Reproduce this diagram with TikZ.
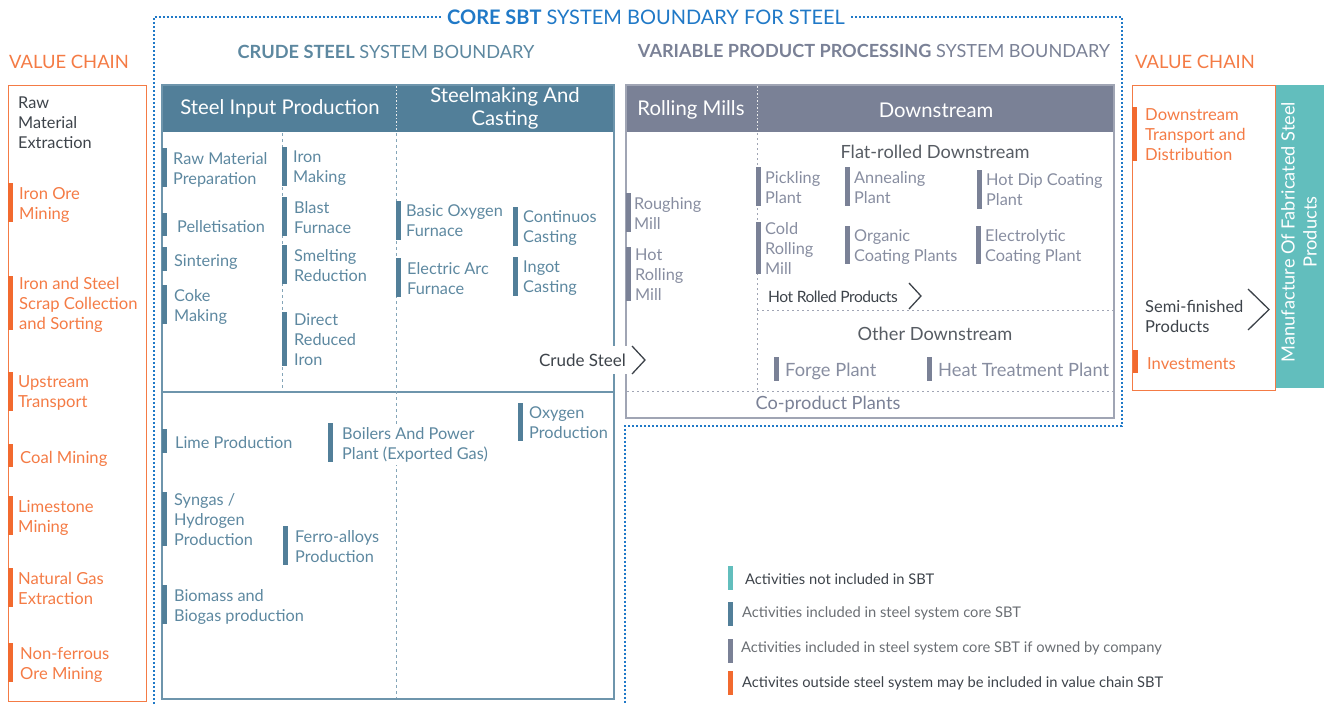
\documentclass[tikz,border=0pt]{standalone}
\usepackage{fontspec}
\setmainfont{Lato}
\usetikzlibrary{calc}

\definecolor{coreblue}{HTML}{527F99}
\definecolor{coretext}{HTML}{5D88A0}
\definecolor{coreline}{HTML}{6E95AC}
\definecolor{rollgray}{HTML}{7A8196}
\definecolor{rolltext}{HTML}{878DA0}
\definecolor{rollline}{HTML}{A0A5B4}
\definecolor{vcorange}{HTML}{F26A2F}
\definecolor{vctext}{HTML}{F47B45}
\definecolor{tealfill}{HTML}{62BEBD}
\definecolor{darktext}{HTML}{3D434A}
\definecolor{subtext}{HTML}{575C63}
\definecolor{sbtblue}{HTML}{2079C7}
\definecolor{legendgray}{HTML}{6A6E73}

\newcommand{\fs}[2]{\fontsize{#1}{#2}\selectfont}

% activity: coloured bar plus its label, centred on the bar
% [#1] extra label options, #2 name, #3 kind (core/roll/vc),
% #4 bar x, #5 bar top, #6 bar bottom, #7 label x, #8 label
\newcommand{\act}[8][]{%
  \fill[#3bar] (#4,#5) rectangle (#4+5,#6);
  \node[#3item,#1] (#2) at (#7,{(#5+#6)/2}) {#8};}

\tikzset{
  itemtxt/.style={anchor=west, inner sep=0pt, align=left, yshift=-3.5pt,
    font=\fs{16.3}{20}, execute at begin node=\strut, execute at end node=\strut},
  coreitem/.style={itemtxt, text=coretext},
  rollitem/.style={itemtxt, text=rolltext},
  vcitem/.style={itemtxt, text=vctext, font=\fs{16.6}{20}},
  corebar/.style={fill=coreblue},
  rollbar/.style={fill=rollgray},
  vcbar/.style={fill=vcorange},
  hdrtxt/.style={text=white, font=\fs{20.3}{23}, align=center, inner sep=0pt},
  sbtdot/.style={draw=sbtblue, line width=1.6pt, dash pattern=on 1.6pt off 2.4pt},
  coredash/.style={draw=coreline!85, line width=1pt, dash pattern=on 3pt off 3pt},
  rolldot/.style={draw=rollline, line width=1pt, dash pattern=on 2pt off 3pt},
  hdrdot/.style={draw=white!85!gray, line width=1pt, dash pattern=on 1.5pt off 2pt},
  chev/.style={draw=darktext, line width=1.3pt},
  darklbl/.style={text=darktext, inner sep=0pt},
  sublbl/.style={font=\fs{18.2}{20}, text=subtext},
  legtxt/.style={anchor=west, inner sep=0pt, font=\fs{14.7}{17}},
}

\begin{document}
\begin{tikzpicture}[x=1pt,y=-1pt]
\useasboundingbox (0,0) rectangle (1324,704);

% ---------- core SBT boundary ----------
\draw[sbtdot] (154,704) -- (154,17) -- (1122,17) -- (1122,426) -- (625,426) -- (625,704);
\node[font=\fs{20}{22}, text=sbtblue, fill=white, inner xsep=5pt, inner ysep=3pt] (coretitle)
  at (646,17) {\textbf{CORE SBT} SYSTEM BOUNDARY FOR STEEL};

% ---------- section titles ----------
\node[font=\fs{18.2}{20}, text=coretext] (crudetitle) at (386,52) {\textbf{CRUDE STEEL} SYSTEM BOUNDARY};
\node[font=\fs{18.1}{20}, text=rollgray] (vpptitle) at (874,51) {\textbf{VARIABLE PRODUCT PROCESSING} SYSTEM BOUNDARY};
\node[font=\fs{18.4}{20}, text=vctext] (vcleft) at (69,62) {VALUE CHAIN};
\node[font=\fs{18.4}{20}, text=vctext] (vcright) at (1195,62) {VALUE CHAIN};

% ---------- upstream value chain ----------
\draw[vctext, line width=1pt] (8,85) rectangle (146,701);
\node[itemtxt, text=darktext] (rawext) at (18,122) {Raw\\Material\\Extraction};
\act{ironore}{vc}{8}{183}{222}{19}{Iron Ore\\Mining}
\act{scrap}{vc}{8}{276}{330}{19}{Iron and Steel\\Scrap Collection\\and Sorting}
\act{upstream}{vc}{8}{372}{411}{18}{Upstream\\Transport}
\act{coal}{vc}{8}{444}{467}{20}{Coal Mining}
\act{limestone}{vc}{8}{496}{535}{18}{Limestone\\Mining}
\act{natgas}{vc}{8}{568}{607}{18}{Natural Gas\\Extraction}
\act{nonferrous}{vc}{8}{643}{682}{20}{Non-ferrous\\Ore Mining}

% ---------- crude steel system ----------
\fill[coreblue] (162,85) rectangle (614,132);
\draw[coreline, line width=1.3pt] (162,85) rectangle (614,699);
\draw[coreline, line width=1.3pt] (162,392) -- (614,392);
\draw[hdrdot] (396,86) -- (396,131);
\draw[coredash] (282,133) -- (282,391);
\draw[coredash] (396,133) -- (396,698);
\node[hdrtxt] (sip) at (280,109) {Steel Input Production};
\node[hdrtxt] (smc) at (505,108.5) {Steelmaking And\\Casting};

\act{rmp}{core}{162}{148}{187}{173}{Raw Material\\Preparation}
\act{pellet}{core}{162}{213}{236}{177}{Pelletisation}
\act{sinter}{core}{162}{247}{271}{174}{Sintering}
\act{coke}{core}{162}{285}{324}{174}{Coke\\Making}
\act{ironmk}{core}{282}{147}{186}{293}{Iron\\Making}
\act{blast}{core}{282}{197}{236}{294}{Blast\\Furnace}
\act{smelt}{core}{282}{245}{284}{294}{Smelting\\Reduction}
\act{dri}{core}{282}{312}{366}{294}{Direct\\Reduced\\Iron}
\act{bof}{core}{396}{201}{240}{406}{Basic Oxygen\\Furnace}
\act{eaf}{core}{396}{258}{297}{407}{Electric Arc\\Furnace}
\act{contcast}{core}{513}{207}{246}{523}{Continuos\\Casting}
\act{ingot}{core}{513}{257}{296}{523}{Ingot\\Casting}

\act{lime}{core}{162}{429}{453}{175}{Lime Production}
\act[fill=white]{boilers}{core}{328}{423}{462}{342}{Boilers And Power\\Plant (Exported Gas)}
\act{oxygen}{core}{518}{403}{441}{529}{Oxygen\\Production}
\act{syngas}{core}{162}{492}{546}{174}{Syngas /\\Hydrogen\\Production}
\act{ferro}{core}{283}{526}{565}{295}{Ferro-alloys\\Production}
\act{biomass}{core}{162}{585}{624}{174}{Biomass and\\Biogas production}

% ---------- variable product processing ----------
\fill[rollgray] (626,85) rectangle (1114,132);
\draw[rollline, line width=1.3pt] (626,85) rectangle (1114,418);
\draw[hdrdot] (757,86) -- (757,131);
\draw[rolldot] (757,133) -- (757,390);
\draw[rolldot] (757,310) -- (1113,310);
\draw[rolldot] (627,391) -- (1113,391);
\node[hdrtxt] (rollmills) at (691,110) {Rolling Mills};
\node[hdrtxt] (downstream) at (936,110) {Downstream};
\node[sublbl] (flatds) at (935,152) {Flat-rolled Downstream};
\node[sublbl] (otherds) at (935,334) {Other Downstream};
\node[sublbl, text=rollgray] (coprod) at (828,404) {Co-product Plants};

\act{rough}{roll}{626}{193}{232}{634}{Roughing\\Mill}
\act{hotroll}{roll}{626}{247}{301}{635}{Hot\\Rolling\\Mill}
\act{pickle}{roll}{756}{167}{206}{765}{Pickling\\Plant}
\act{anneal}{roll}{845}{167}{206}{854}{Annealing\\Plant}
\act{hotdip}{roll}{977}{170}{209}{986}{Hot Dip Coating\\Plant}
\act{coldroll}{roll}{756}{222}{274}{765}{Cold\\Rolling\\Mill}
\act{organic}{roll}{845}{226}{264}{854}{Organic\\Coating Plants}
\act{electro}{roll}{976}{226}{264}{985}{Electrolytic\\Coating Plant}
\act[font=\fs{18.3}{20}]{forge}{roll}{774}{357}{381}{785}{Forge Plant}
\act[font=\fs{18.3}{20}]{heat}{roll}{927}{357}{381}{938}{Heat Treatment Plant}

% ---------- product flow labels ----------
\node[darklbl, font=\fs{17}{20}, anchor=east, fill=white, inner xsep=3pt, inner ysep=8pt] (crude) at (629,360) {Crude Steel};
\draw[chev] ($(crude.east)+(3,-14)$) -- ++(13,14) -- ++(-13,14);
\node[darklbl, font=\fs{15.6}{18}\addfontfeature{LetterSpace=-3}, anchor=west] (hrp) at (768,297) {Hot Rolled Products};
\draw[chev] ($(hrp.east)+(11,-14)$) -- ++(12,13) -- ++(-12,13);

% ---------- downstream value chain ----------
\fill[tealfill] (1275,85) rectangle (1324,388);
\draw[vctext, line width=1pt] (1132,85) rectangle (1275,390);
\node[rotate=90, text=white, align=center, font=\fs{18.2}{22}, inner sep=0pt] (fabricated) at (1299,232)
  {Manufacture Of Fabricated Steel\\Products};
\act{dstrans}{vc}{1132}{107}{161}{1145}{Downstream\\Transport and\\Distribution}
\node[itemtxt, text=darktext, font=\fs{16.5}{20}] (semi) at (1145,316) {Semi-finished\\Products};
\draw[chev] (1248,289) -- (1269,309.5) -- (1248,330);
\act{invest}{vc}{1133}{350}{373}{1147}{Investments}

% ---------- legend ----------
\fill[tealfill] (728,566) rectangle (733,590);
\node[legtxt, text=darktext] (leg1) at (745,579) {Activities not included in SBT};
\fill[coreblue] (728,602) rectangle (733,626);
\node[legtxt, text=legendgray] (leg2) at (742,613) {Activities included in steel system core SBT};
\fill[rollgray] (728,639) rectangle (733,663);
\node[legtxt, text=legendgray] (leg3) at (741,648) {Activities included in steel system core SBT if owned by company};
\fill[vcorange] (728,671) rectangle (733,695);
\node[legtxt, text=darktext] (leg4) at (742,683) {Activites outside steel system may be included in value chain SBT};
\end{tikzpicture}
\end{document}
